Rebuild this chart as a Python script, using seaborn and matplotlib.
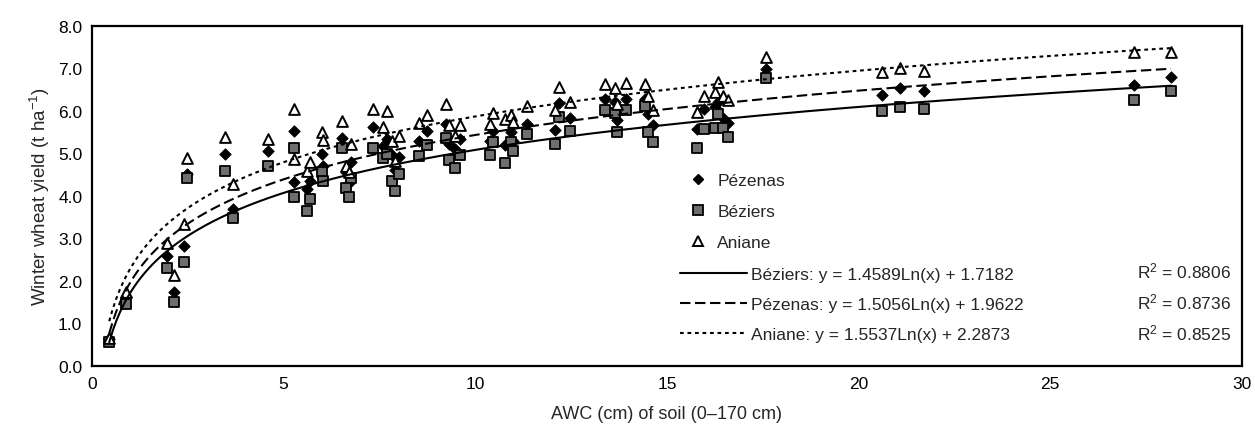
"""
Winter wheat yield vs soil AWC for three sites, with logarithmic trend lines
"""
import numpy as np
import pandas as pd
import matplotlib
matplotlib.use("Agg")
import matplotlib.pyplot as plt
from matplotlib.lines import Line2D
import seaborn as sns

# AWC of soil (cm), shared by the three sites
awc = [0.45, 0.90, 1.95, 2.15, 2.40, 2.47, 3.47, 3.67, 4.58, 5.28,
       5.28, 5.62, 5.70, 6.00, 6.03, 6.53, 6.75, 6.63, 6.70, 7.32,
       7.58, 7.70, 7.82, 7.90, 8.00, 8.53, 8.73, 9.24, 9.32, 9.47,
       9.60, 10.38, 10.45, 10.77, 10.92, 10.99, 11.36, 12.08, 12.18, 12.47,
       13.38, 13.64, 13.70, 13.93, 14.43, 14.51, 14.64, 15.78, 15.96, 16.25,
       16.32, 16.45, 16.58, 17.58, 20.62, 21.08, 21.71, 27.19, 28.15]

# yields (t/ha)
pezenas = [0.62, 1.62, 2.59, 1.74, 2.82, 4.50, 4.98, 3.69, 5.04, 5.52,
           4.33, 4.16, 4.35, 4.98, 4.71, 5.35, 4.79, 4.55, 4.30, 5.61,
           5.16, 5.33, 4.95, 4.60, 4.90, 5.29, 5.53, 5.69, 5.22, 5.10,
           5.33, 5.29, 5.53, 5.20, 5.49, 5.29, 5.69, 5.55, 6.18, 5.82,
           6.28, 6.20, 5.77, 6.28, 6.28, 5.92, 5.66, 5.57, 6.04, 6.08,
           6.20, 5.83, 5.70, 6.98, 6.37, 6.53, 6.46, 6.61, 6.79]
beziers = [0.55, 1.45, 2.31, 1.49, 2.45, 4.41, 4.58, 3.47, 4.71, 5.12,
           3.96, 3.65, 3.92, 4.55, 4.35, 5.12, 4.41, 4.17, 3.98, 5.12,
           4.88, 4.98, 4.35, 4.12, 4.51, 4.93, 5.19, 5.35, 4.85, 4.65,
           4.96, 4.96, 5.27, 4.77, 5.27, 5.04, 5.45, 5.22, 5.84, 5.53,
           6.02, 5.95, 5.51, 6.02, 6.10, 5.49, 5.26, 5.12, 5.58, 5.59,
           5.92, 5.59, 5.37, 6.76, 6.00, 6.08, 6.04, 6.25, 6.47]
aniane = [0.65, 1.73, 2.88, 2.13, 3.33, 4.88, 5.37, 4.28, 5.33, 6.04,
          4.86, 4.59, 4.80, 5.49, 5.30, 5.75, 5.22, 4.71, 4.55, 6.04,
          5.61, 6.00, 5.29, 4.82, 5.40, 5.71, 5.90, 6.16, 5.66, 5.41,
          5.66, 5.69, 5.95, 5.80, 5.90, 5.73, 6.12, 6.02, 6.56, 6.20,
          6.63, 6.53, 6.16, 6.65, 6.63, 6.34, 6.02, 5.96, 6.35, 6.45,
          6.67, 6.35, 6.24, 7.26, 6.90, 7.00, 6.93, 7.37, 7.39]

# trend lines y = a*Ln(x) + b as given on the chart
fit_names = ["Béziers", "Pézenas", "Aniane"]
fit_a = [1.4589, 1.5056, 1.5537]
fit_b = [1.7182, 1.9622, 2.2873]
fit_r2 = ["0.8806", "0.8736", "0.8525"]

x_ticks = [0, 5, 10, 15, 20, 25, 30]
y_ticks = [0, 1, 2, 3, 4, 5, 6, 7, 8]

sns.set_theme(style="white")
plt.rcParams["font.family"] = ["Liberation Sans", "DejaVu Sans"]
plt.rcParams["mathtext.fontset"] = "custom"
plt.rcParams["mathtext.rm"] = "Liberation Sans"
plt.rcParams["mathtext.it"] = "Liberation Sans"

fig = plt.figure(figsize=(12.55, 4.39), dpi=100)
ax = fig.add_axes([0.0733, 0.1647, 0.9163, 0.7745])

df = pd.DataFrame({"awc": awc, "Pézenas": pezenas, "Béziers": beziers, "Aniane": aniane})

sns.scatterplot(data=df, x="awc", y="Pézenas", marker="D", s=34, color="black",
                edgecolor="black", linewidth=0.6, ax=ax, zorder=3)
sns.scatterplot(data=df, x="awc", y="Béziers", marker="s", s=55, color="#6f6f6f",
                edgecolor="black", linewidth=1.3, ax=ax, zorder=3)
sns.scatterplot(data=df, x="awc", y="Aniane", marker="^", s=60, color="white",
                edgecolor="black", linewidth=1.4, ax=ax, zorder=3)

# fitted curves over the data range
xs = np.linspace(min(awc), max(awc), 300)
styles = {"Béziers": "-", "Pézenas": (0, (5, 2.2)), "Aniane": (0, (1.8, 1.8))}
for name, a, b in zip(fit_names, fit_a, fit_b):
    curve = pd.DataFrame({"x": xs, "y": a * np.log(xs) + b})
    sns.lineplot(data=curve, x="x", y="y", color="black", linewidth=1.5,
                 linestyle=styles[name], ax=ax, zorder=4)

ax.set_xlim(0, 30)
ax.set_ylim(0, 8)
ax.set_xticks(x_ticks)
ax.set_yticks(y_ticks)
ax.set_yticklabels([f"{v:.1f}" for v in y_ticks])
ax.tick_params(axis="x", direction="inout", length=7, width=1, labelsize=12.5, pad=4, colors="black")
ax.tick_params(axis="y", direction="out", length=4, width=1, labelsize=12.5, pad=3, colors="black")
for side in ["left", "right", "top", "bottom"]:
    ax.spines[side].set_visible(True)
    ax.spines[side].set_color("black")
    ax.spines[side].set_linewidth(1.6)

ax.set_xlabel("AWC (cm) of soil (0\u2013170 cm)", fontsize=13, labelpad=10)
ax.set_ylabel("Winter wheat yield (t ha$^{-1}$)", fontsize=13.5, labelpad=4)

# marker legend
mark_handles = [
    Line2D([], [], marker="D", color="black", markersize=5.5, linestyle="none"),
    Line2D([], [], marker="s", markerfacecolor="#6f6f6f", markeredgecolor="black",
           markeredgewidth=1.3, markersize=7, linestyle="none"),
    Line2D([], [], marker="^", markerfacecolor="white", markeredgecolor="black",
           markeredgewidth=1.4, markersize=7.5, linestyle="none"),
]
leg1 = ax.legend(mark_handles, ["Pézenas", "Béziers", "Aniane"], loc="upper left",
                 bbox_to_anchor=(0.518, 0.567), frameon=False, fontsize=12.5,
                 handlelength=1.2, handletextpad=0.5, labelspacing=0.9,
                 borderpad=0, borderaxespad=0)
ax.add_artist(leg1)

# trend line legend
line_handles = [Line2D([], [], color="black", linewidth=1.5, linestyle=styles[n]) for n in fit_names]
line_labels = [f"{n}: y = {a:.4f}Ln(x) + {b:.4f}" for n, a, b in zip(fit_names, fit_a, fit_b)]
ax.legend(line_handles, line_labels, loc="upper left", bbox_to_anchor=(0.511, 0.29),
          frameon=False, fontsize=12.5, handlelength=3.9, handletextpad=0.2,
          labelspacing=0.85, borderpad=0, borderaxespad=0)

for i, r2 in enumerate(fit_r2):
    ax.text(0.909, 0.279 - i * 0.09, f"R$^2$ = {r2}", transform=ax.transAxes,
            fontsize=12.5, ha="left", va="center")

fig.savefig("out.png", dpi=100)
